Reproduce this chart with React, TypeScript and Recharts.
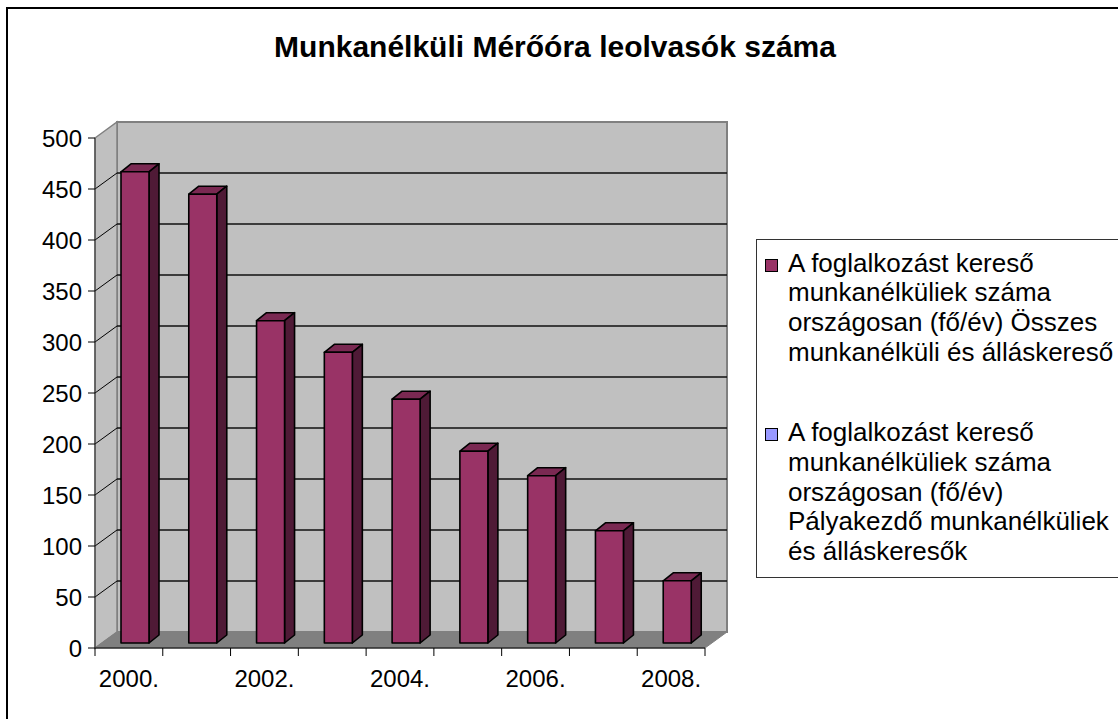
import React from 'react';
import { BarChart, Bar, XAxis, YAxis, ReferenceArea, ReferenceLine, Legend } from 'recharts';

const title = 'Munkanélküli Mérőóra leolvasók száma';
const years = ['2000.', '2001.', '2002.', '2003.', '2004.', '2005.', '2006.', '2007.', '2008.'];
const totalSeekers = [462, 440, 316, 285, 239, 188, 164, 110, 61];
const newcomerSeekers = [0, 0, 0, 0, 0, 0, 0, 0, 0];
const yTicks = [0, 50, 100, 150, 200, 250, 300, 350, 400, 450, 500];
const seriesNames = [
  'A foglalkozást kereső\nmunkanélküliek száma\nországosan (fő/év) Összes\nmunkanélküli és álláskereső',
  'A foglalkozást kereső\nmunkanélküliek száma\nországosan (fő/év)\nPályakezdő munkanélküliek\nés álláskeresők',
];

const rows = years.map((year, i) => ({
  year,
  total: totalSeekers[i],
  newcomers: newcomerSeekers[i],
}));

const FONT = '"Liberation Sans", Arial, sans-serif';
// depth of the 3D box (back wall offset from the front plane)
const DX = 22;
const DY = -16;

const Walls = ({ x, y, width, height }: any) => {
  const l = x, r = x + width, t = y, b = y + height;
  return (
    <g>
      <polygon
        points={`${l + DX},${t + DY} ${r + DX},${t + DY} ${r + DX},${b + DY} ${l + DX},${b + DY}`}
        fill="#c0c0c0" stroke="#808080" strokeWidth={2}
      />
      <polygon
        points={`${l},${t} ${l + DX},${t + DY} ${l + DX},${b + DY} ${l},${b}`}
        fill="#c0c0c0" stroke="#808080" strokeWidth={1.5}
      />
      <polygon
        points={`${l},${b} ${l + DX},${b + DY} ${r + DX},${b + DY} ${r},${b}`}
        fill="#808080" stroke="#808080"
      />
    </g>
  );
};

const GridLine3D = ({ x1, x2, y1 }: any) => {
  const l = Math.min(x1, x2), r = Math.max(x1, x2);
  return (
    <g>
      <line x1={l} y1={y1} x2={l + DX} y2={y1 + DY} stroke="#000" strokeWidth={1} />
      <line x1={l + DX} y1={y1 + DY} x2={r + DX} y2={y1 + DY} stroke="#111" strokeWidth={1.4} />
    </g>
  );
};

const CategoryTick = ({ x1, y1, y2 }: any) => {
  const yb = Math.max(y1, y2);
  return <line x1={x1} y1={yb} x2={x1} y2={yb + 8} stroke="#000" strokeWidth={1} />;
};

const makeBar3D = (side: string, top: string) => (props: any) => {
  const { x, y, width, height, fill } = props;
  if (!height || height <= 0.5) return null;
  const fx = x + 6, fy = y - 5;
  const bx = 10, by = -8;
  const w = width, h = height;
  return (
    <g stroke="#000" strokeWidth={1.6} strokeLinejoin="round">
      <polygon points={`${fx},${fy} ${fx + bx},${fy + by} ${fx + w + bx},${fy + by} ${fx + w},${fy}`} fill={top} />
      <polygon points={`${fx + w},${fy} ${fx + w + bx},${fy + by} ${fx + w + bx},${fy + h + by} ${fx + w},${fy + h}`} fill={side} />
      <rect x={fx} y={fy} width={w} height={h} fill={fill} />
    </g>
  );
};

const LegendBox = ({ payload }: any) => {
  const items = [...(payload || [])].sort(
    (a: any, b: any) => seriesNames.indexOf(a.value) - seriesNames.indexOf(b.value)
  );
  return (
    <div
      style={{
        border: '1.5px solid #333',
        padding: '8.5px 0 10px 8px',
        width: 420,
        boxSizing: 'border-box',
        background: '#fff',
        fontFamily: FONT,
        fontSize: 26,
        lineHeight: '29.7px',
        color: '#000',
      }}
    >
      {items.map((entry: any, i: number) => (
        <div key={i} style={{ display: 'flex', alignItems: 'flex-start', marginTop: i ? 51 : 0 }}>
          <span
            style={{
              width: 13, height: 13, boxSizing: 'border-box', border: '1px solid #000',
              background: entry.color, marginTop: 10, marginRight: 10, flex: 'none',
            }}
          />
          <span style={{ whiteSpace: 'pre-line' }}>{entry.value}</span>
        </div>
      ))}
    </div>
  );
};

export default function App() {
  return (
    <div style={{ position: 'absolute', left: 0, top: 0, width: 1118, height: 719, overflow: 'hidden', background: '#fff' }}>
      <div style={{ position: 'absolute', left: 6, top: 7, width: 1200, height: 800, border: '2px solid #000' }} />
      <div
        style={{
          position: 'absolute', left: 0, top: 30, width: 1110, textAlign: 'center',
          fontFamily: FONT, fontWeight: 'bold', fontSize: 30, lineHeight: '34px', color: '#000',
        }}
      >
        {title}
      </div>
      <div style={{ position: 'absolute', left: 0, top: 0 }}>
        <BarChart
          width={1118}
          height={719}
          data={rows}
          margin={{ top: 138, right: 413, bottom: 41, left: 35 }}
          barSize={28}
          style={{ overflow: 'visible' }}
        >
          <ReferenceArea y1={0} y2={500} shape={Walls} ifOverflow="visible" zIndex={-90} />
          {yTicks.slice(1, -1).map((t) => (
            <ReferenceLine key={t} y={t} shape={GridLine3D} ifOverflow="visible" zIndex={-80} />
          ))}
          <XAxis
            dataKey="year"
            interval={1}
            height={30}
            tickLine={false}
            tickSize={8}
            tickMargin={14}
            axisLine={{ stroke: '#000', strokeWidth: 1 }}
            tick={{ fontSize: 24, fill: '#000', fontFamily: FONT }}
          />
          <YAxis
            type="number"
            domain={[0, 500]}
            ticks={yTicks}
            width={60}
            tickSize={7}
            tickMargin={6}
            axisLine={{ stroke: '#333', strokeWidth: 1 }}
            tickLine={{ stroke: '#000', strokeWidth: 1 }}
            tick={{ fontSize: 24, fill: '#000', fontFamily: FONT }}
          />
          <Bar
            dataKey="total"
            name={seriesNames[0]}
            stackId="a"
            fill="#993366"
            shape={makeBar3D('#4f1a36', '#7a2952')}
            isAnimationActive={false}
          />
          <Bar
            dataKey="newcomers"
            name={seriesNames[1]}
            stackId="a"
            fill="#9999ff"
            shape={makeBar3D('#4d4d80', '#7a7acc')}
            isAnimationActive={false}
          />
          {years.map((yr) => (
            <ReferenceLine key={yr} x={yr} position="start" shape={CategoryTick} ifOverflow="visible" />
          ))}
          <ReferenceLine x={years[years.length - 1]} position="end" shape={CategoryTick} ifOverflow="visible" />
          <Legend
            layout="vertical"
            align="center"
            verticalAlign="middle"
            content={LegendBox}
            wrapperStyle={{ left: 756, top: 239, width: 420 }}
          />
        </BarChart>
      </div>
    </div>
  );
}
